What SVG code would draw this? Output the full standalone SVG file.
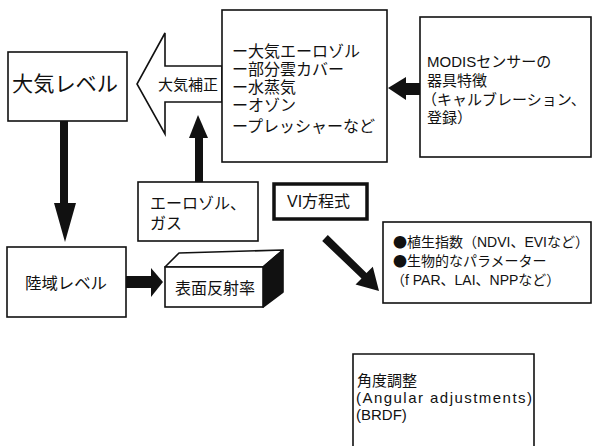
<svg xmlns="http://www.w3.org/2000/svg" width="594" height="446" viewBox="0 0 594 446">
<style>
.box{fill:#fff;stroke:#111;stroke-width:1.6}
.thick{fill:#fff;stroke:#111;stroke-width:3.5}
.t{font-family:"Liberation Sans","Noto Sans CJK JP",sans-serif;fill:#111}
.j{font-family:"Noto Sans CJK JP","Liberation Sans",sans-serif}
.ar{fill:#111;stroke:none}
</style>
<rect width="594" height="446" fill="#fff"/>
<g id="connectors">
  <polygon points="222,66 165,66 165,33 137,84 165,134 165,102 222,102" fill="#fff" stroke="#111" stroke-width="1.6"/>
  <text class="t" x="188" y="90" font-size="15" text-anchor="middle">大気補正</text>
  <rect class="ar" x="60" y="121" width="8" height="84"/>
  <polygon class="ar" points="54,203 76,203 65,242"/>
  <rect class="ar" x="126" y="276" width="27" height="12"/>
  <polygon class="ar" points="151,268 151,297 163,282"/>
  <rect class="ar" x="195" y="135" width="8" height="48"/>
  <polygon class="ar" points="189,138 208,138 198,115"/>
  <rect class="ar" x="404" y="83" width="16" height="12"/>
  <polygon class="ar" points="406,77 406,100 388,88"/>
  <polygon class="ar" points="327.8,235.1 366.5,273 372.8,266.8 379,291 355.5,284.5 361.5,278.6 322.2,240.9"/>
</g>
<g id="atm-level">
  <rect class="box" x="8" y="52" width="119" height="69"/>
  <text class="t" x="12" y="91" font-size="21" textLength="106" lengthAdjust="spacingAndGlyphs">大気レベル</text>
</g>
<g id="atm-factors">
  <rect class="box" x="222" y="10" width="165" height="152"/>
  <text class="t" font-size="16">
    <tspan x="232" y="57">ー大気エーロゾル</tspan>
    <tspan x="232" y="75">ー部分雲カバー</tspan>
    <tspan x="232" y="93">ー水蒸気</tspan>
    <tspan x="232" y="111">ーオゾン</tspan>
    <tspan x="232" y="132">ープレッシャーなど</tspan>
  </text>
</g>
<g id="modis">
  <rect class="box" x="420" y="17" width="171" height="140"/>
  <text class="t" font-size="15">
    <tspan x="427" y="67">MODISセンサーの</tspan>
    <tspan x="427" y="86">器具特徴</tspan>
    <tspan x="422" y="105">（キャルブレーション、</tspan>
    <tspan x="427" y="123">登録）</tspan>
  </text>
</g>
<g id="aerosol-gas">
  <rect class="box" x="138" y="182" width="120" height="59"/>
  <text class="t" font-size="16">
    <tspan x="150" y="209">エーロゾル、</tspan>
    <tspan x="150" y="229">ガス</tspan>
  </text>
</g>
<g id="vi-eq">
  <rect class="thick" x="274" y="184" width="93" height="35"/>
  <text class="t" x="287" y="207" font-size="16">VI方程式</text>
</g>
<g id="land-level">
  <rect class="box" x="7" y="247" width="119" height="70"/>
  <text class="t" x="25" y="289" font-size="16" textLength="82" lengthAdjust="spacingAndGlyphs">陸域レベル</text>
</g>
<g id="reflectance">
  <polygon points="165,267 179,253 283,250 263,267" fill="#fff" stroke="#111" stroke-width="1.6" stroke-linejoin="round"/>
  <polygon points="263,267 283,250 283,292 263,307" fill="#111" stroke="#111" stroke-width="1.6" stroke-linejoin="round"/>
  <rect class="box" x="165" y="267" width="98" height="40"/>
  <text class="t" x="175" y="294" font-size="16">表面反射率</text>
</g>
<g id="vi-products">
  <rect class="box" x="383" y="222" width="208" height="81"/>
  <text class="t" x="393" y="247" font-size="14"><tspan class="j">●</tspan>植生指数（NDVI、EVIなど）</text>
  <text class="t" x="393" y="266" font-size="14"><tspan class="j">●</tspan>生物的なパラメーター</text>
  <text class="t" x="391" y="285" font-size="14">（f PAR、LAI、NPPなど）</text>
</g>
<g id="angular">
  <path d="M353,450 V354 H534 V450" fill="#fff" stroke="#111" stroke-width="1.6"/>
  <text class="t" font-size="15">
    <tspan x="357" y="386">角度調整</tspan>
    <tspan x="356" y="403" textLength="176" lengthAdjust="spacing">(Angular adjustments)</tspan>
    <tspan x="356" y="420">(BRDF)</tspan>
  </text>
</g>
</svg>
